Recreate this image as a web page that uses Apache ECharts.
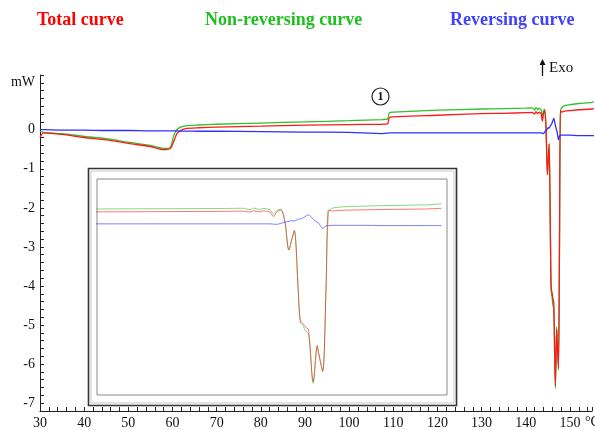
<!DOCTYPE html>
<html>
<head>
<meta charset="utf-8">
<script src="https://cdn.jsdelivr.net/npm/echarts@6/dist/echarts.min.js"></script>
<style>
html,body{margin:0;padding:0;background:#fff;}
#chart{width:595px;height:430px;}
</style>
</head>
<body>
<div id="chart"></div>
<script>
// Temperature (°C)
const temps = [30, 30.8, 35, 40, 45, 50, 55, 58, 59.5, 60.3, 61, 61.7, 63, 66, 70, 80, 90, 100, 107.5, 108.7,
  109.1, 110, 120, 130, 135, 140, 141.5, 142, 142.3, 142.7, 143, 143.3, 143.5, 143.76, 144, 144.3, 144.6, 144.9,
  145.1, 145.3, 145.6, 145.74, 145.98, 146.1, 146.35, 146.7, 147.0, 147.1, 147.4, 147.64, 147.83, 148.1, 149, 150,
  152, 155, 156.2];
// Heat flow (mW)
const totalCurve = [-0.2, -0.08, -0.12, -0.2, -0.26, -0.35, -0.43, -0.51, -0.48, -0.3, -0.1, -0.03, 0.03, 0.05,
  0.065, 0.09, 0.115, 0.13, 0.14, 0.146, 0.31, 0.33, 0.37, 0.41, 0.42, 0.435, 0.44, 0.40, 0.46, 0.41, 0.45, 0.43,
  0.40, 0.22, 0.40, 0.49, 0.01, -1.15, -0.75, -0.36, -2.9, -4.02, -4.2, -4.3, -4.43, -6.55, -5.11, -5.4, -6.1,
  -2.92, 0.49, 0.45, 0.48, 0.49, 0.51, 0.53, 0.56];
const nonReversingCurve = [-0.04, -0.07, -0.1, -0.17, -0.23, -0.32, -0.4, -0.48, -0.45, -0.15, 0.0, 0.06, 0.1, 0.12,
  0.14, 0.17, 0.2, 0.23, 0.26, 0.27, 0.43, 0.45, 0.5, 0.53, 0.54, 0.55, 0.56, 0.50, 0.57, 0.51, 0.55, 0.53,
  0.50, 0.33, 0.47, 0.52, 0.01, -1.15, -0.75, -0.36, -2.9, -4.1, -4.29, -4.45, -4.6, -6.62, -5.05, -5.35, -6.15,
  -2.92, 0.40, 0.56, 0.62, 0.64, 0.67, 0.70, 0.74];
const reversingCurve = [0, 0, -0.01, -0.01, -0.02, -0.02, -0.03, -0.03, -0.03, -0.03, -0.03, -0.035, -0.035, -0.04,
  -0.04, -0.05, -0.06, -0.07, -0.1, -0.09, -0.08, -0.08, -0.08, -0.08, -0.08, -0.08, -0.08, -0.08, -0.08, -0.08,
  -0.08, -0.08, -0.08, -0.09, -0.1, -0.06, -0.01, 0.02, 0.05, 0.04, 0.11, 0.12, 0.18, 0.22, 0.29, 0.11, -0.02,
  -0.05, -0.26, -0.16, -0.15, -0.14, -0.14, -0.14, -0.15, -0.15, -0.15];
const seriesNames = ['Total curve', 'Non-reversing curve', 'Reversing curve'];
const unitY = 'mW';
const unitX = '°C';

const colors = {total: '#ff1a1a', nonrev: '#2ec22e', rev: '#2f2fff'};
const pairs = arr => temps.map((t, i) => [t, arr[i]]);
const serif = '"Liberation Serif", "DejaVu Serif", serif';

const chart = echarts.init(document.getElementById('chart'), null, {renderer: 'canvas'});

function mainLine(name, arr, color, z) {
  return {name, type: 'line', xAxisIndex: 0, yAxisIndex: 0, data: pairs(arr), showSymbol: false,
    smooth: 0.25, lineStyle: {color, width: 1.3}, z, silent: true};
}
function insetLine(name, arr, color, z) {
  return {name: name + ' (detail)', type: 'line', xAxisIndex: 1, yAxisIndex: 1, data: pairs(arr), showSymbol: false,
    smooth: 0.3, lineStyle: {color, width: 1, opacity: 0.6}, z, silent: true};
}

chart.setOption({
  animation: false,
  backgroundColor: '#fff',
  grid: [
    {left: 40, right: 0, top: 75, bottom: 19},
    {left: 97, top: 179, width: 350, height: 216, show: true, borderColor: '#8a8a8a', borderWidth: 1,
      backgroundColor: 'transparent', z: 1}
  ],
  xAxis: [
    {type: 'value', gridIndex: 0, min: 30, max: 155, interval: 2,
      axisLine: {show: true, onZero: false, lineStyle: {color: '#222', width: 1}},
      axisTick: {show: true, inside: true, length: 4, lineStyle: {color: '#222'}},
      splitLine: {show: false},
      axisLabel: {color: '#111', fontFamily: serif, fontSize: 14, margin: 5,
        formatter: v => (Math.abs(v % 10) < 1e-6 && v <= 150) ? String(v) : ''}},
    {type: 'value', gridIndex: 1, min: 130.7, max: 156.6, show: false}
  ],
  yAxis: [
    {type: 'value', gridIndex: 0, min: -7.2, max: 1.4, interval: 0.2,
      axisLine: {show: true, onZero: false, lineStyle: {color: '#222', width: 1}},
      axisTick: {show: true, inside: true, length: 4, lineStyle: {color: '#222'}},
      splitLine: {show: false},
      axisLabel: {color: '#111', fontFamily: serif, fontSize: 14, margin: 5,
        formatter: v => {
          if (Math.abs(v - 1.2) < 1e-6) return unitY;
          const r = Math.round(v);
          return Math.abs(v - r) < 1e-6 && v <= 0.5 ? String(r === 0 ? 0 : r) : '';
        }}},
    {type: 'value', gridIndex: 1, min: -7.1, max: 1.76, show: false}
  ],
  series: [
    mainLine(seriesNames[1], nonReversingCurve, colors.nonrev, 2),
    mainLine(seriesNames[0], totalCurve, colors.total, 3),
    mainLine(seriesNames[2], reversingCurve, colors.rev, 4),
    insetLine(seriesNames[1], nonReversingCurve, colors.nonrev, 2),
    insetLine(seriesNames[0], totalCurve, colors.total, 3),
    insetLine(seriesNames[2], reversingCurve, colors.rev, 4)
  ],
  graphic: [
    {type: 'text', left: 37, top: 11, style: {text: seriesNames[0], fill: '#ff0000',
      font: 'bold 18px ' + serif}},
    {type: 'text', left: 205, top: 11, style: {text: seriesNames[1], fill: '#1fbf1f',
      font: 'bold 18px ' + serif}},
    {type: 'text', left: 450, top: 11, style: {text: seriesNames[2], fill: '#4040ff',
      font: 'bold 18px ' + serif}},
    {type: 'text', left: 585, top: 415, style: {text: unitX, fill: '#111', font: '14px ' + serif}},
    {type: 'text', left: 549, top: 61, style: {text: 'Exo', fill: '#111', font: '15px ' + serif}},
    {type: 'line', shape: {x1: 542.5, y1: 62, x2: 542.5, y2: 76}, style: {stroke: '#111', lineWidth: 1.3}},
    {type: 'polygon', shape: {points: [[539.5, 65], [545.5, 65], [542.5, 59]]}, style: {fill: '#111'}},
    {type: 'circle', shape: {cx: 380.5, cy: 96.5, r: 8.5}, style: {stroke: '#222', lineWidth: 1.2, fill: '#fff'}},
    {type: 'text', x: 380.5, y: 97, style: {text: '1', fill: '#111', font: 'bold 12px ' + serif,
      textAlign: 'center', textVerticalAlign: 'middle'}},
    {type: 'rect', shape: {x: 88.5, y: 168.5, width: 368, height: 237},
      style: {stroke: '#333', lineWidth: 1.6, fill: 'none'}},
    {type: 'rect', shape: {x: 91, y: 171, width: 363, height: 232},
      style: {stroke: '#c8c8c8', lineWidth: 1, fill: 'none'}}
  ]
});
</script>
</body>
</html>
